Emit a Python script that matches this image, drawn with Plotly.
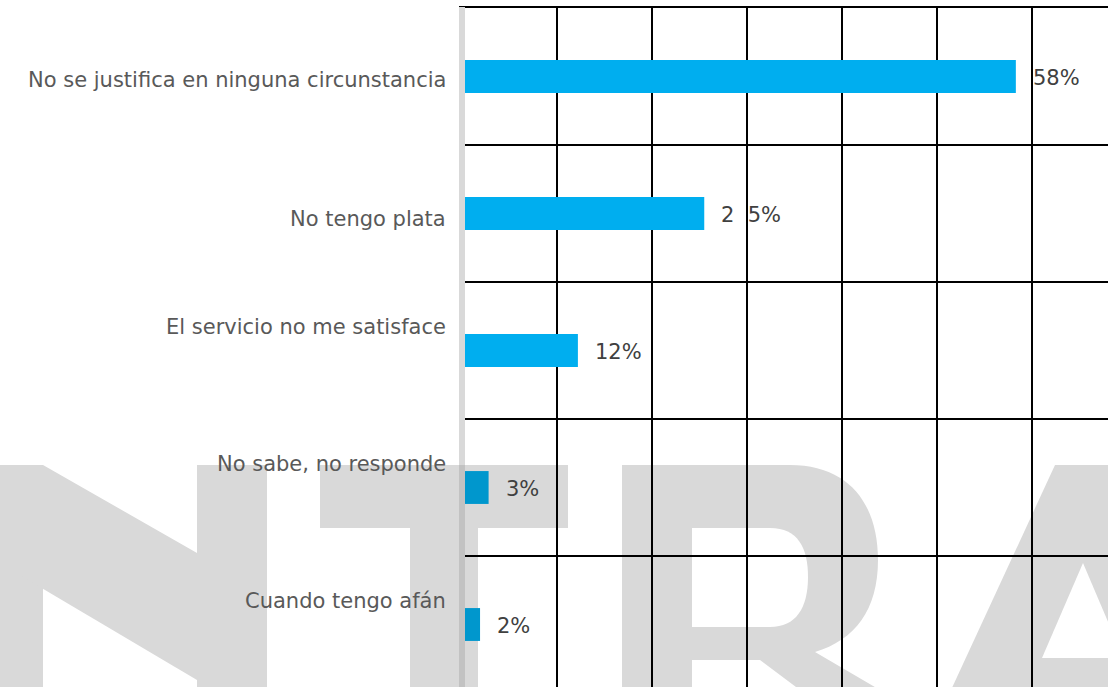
import plotly.graph_objects as go

# ---- data ----
categories = [
    "No se justifica en ninguna circunstancia",
    "No tengo plata",
    "El servicio no me satisface",
    "No sabe, no responde",
    "Cuando tengo afán",
]
values = [58.3, 25.5, 12.2, 2.8, 1.9]
value_labels = ["58%", "2\u00a0\u00a05%", "12%", "3%", "2%"]

# ---- styling ----
bar_colors = ["#00AEEF", "#00AEEF", "#00AEEF", "#0097CD", "#0097CD"]
label_yshift = [-3, -5, 24, 24, 24]
FONT = "DejaVu Sans"
W, H = 1108, 687
ML, MT = 462, 7
PW, PH = W - ML, H - MT
ROW = 137.0
WM = "#d9d9d9"


def px(x):
    return (x - ML) / PW


def py(y):
    return (H - y) / PH


def poly(points, color, layer="below"):
    d = "M " + " L ".join(f"{px(x):.5f},{py(y):.5f}" for x, y in points) + " Z"
    return dict(type="path", xref="paper", yref="paper", path=d,
                fillcolor=color, line=dict(width=0), layer=layer)


def rect(x0, x1, y0, y1, color=WM, layer="below"):
    return dict(type="rect", xref="paper", yref="paper",
                x0=px(x0), x1=px(x1), y0=py(y1), y1=py(y0),
                fillcolor=color, line=dict(width=0), layer=layer)


shapes = [
    # watermark: N
    rect(-20, 43, 465, 690),
    rect(197, 267, 465, 690),
    poly([(20, 465), (43, 465), (197, 553), (197, 680), (45, 590), (20, 575)], WM),
    # T
    rect(320, 568, 465, 528),
    rect(410, 478, 527, 690),
    # R
    rect(622, 692, 465, 690),
    dict(type="path", xref="paper", yref="paper", layer="below", fillcolor=WM, line=dict(width=0),
         path=(f"M {px(622):.5f},{py(465):.5f} L {px(790):.5f},{py(465):.5f} "
               f"C {px(850):.5f},{py(465):.5f} {px(878):.5f},{py(505):.5f} {px(878):.5f},{py(560):.5f} "
               f"C {px(878):.5f},{py(610):.5f} {px(855):.5f},{py(640):.5f} {px(815):.5f},{py(652):.5f} "
               f"L {px(880):.5f},{py(690):.5f} L {px(800):.5f},{py(690):.5f} L {px(760):.5f},{py(660):.5f} "
               f"L {px(622):.5f},{py(660):.5f} Z")),
    dict(type="path", xref="paper", yref="paper", layer="below", fillcolor="white", line=dict(width=0),
         path=(f"M {px(692):.5f},{py(528):.5f} L {px(770):.5f},{py(528):.5f} "
               f"C {px(798):.5f},{py(528):.5f} {px(808):.5f},{py(548):.5f} {px(808):.5f},{py(577):.5f} "
               f"C {px(808):.5f},{py(608):.5f} {px(796):.5f},{py(627):.5f} {px(770):.5f},{py(627):.5f} "
               f"L {px(692):.5f},{py(627):.5f} Z")),
    # A
    poly([(1055, 465), (1120, 465), (1120, 690), (951, 690)], WM),
    poly([(1083, 563), (1042, 658), (1120, 658), (1120, 563)], "white"),
    poly([(1083, 563), (1120, 563), (1120, 650)], WM),
    # top border line of the grid
    dict(type="line", xref="paper", yref="paper", x0=px(459), x1=1.0,
         y0=1.0, y1=1.0, line=dict(color="black", width=2), layer="above"),
    # value axis line (drawn over bar bases)
    dict(type="line", xref="paper", yref="paper", x0=px(462), x1=px(462),
         y0=py(7), y1=py(465), line=dict(color="#d9d9d9", width=6), layer="above"),
    dict(type="line", xref="paper", yref="paper", x0=px(462), x1=px(462),
         y0=py(465), y1=py(690), line=dict(color="#c2c2c2", width=6), layer="above"),
]

fig = go.Figure()
fig.add_trace(go.Bar(
    y=categories, x=values, orientation="h",
    marker=dict(color=bar_colors, line=dict(width=0)),
    width=0.24, hoverinfo="skip",
))

annotations = []
for cat, ys in zip(categories, label_yshift):
    annotations.append(dict(
        x=0, xref="paper", y=cat, yref="y", text=cat, showarrow=False,
        xanchor="right", yanchor="middle", xshift=-14, yshift=ys,
        font=dict(family=FONT, size=21, color="#595959"),
    ))
for cat, v, t in zip(categories, values, value_labels):
    annotations.append(dict(
        x=v, xref="x", y=cat, yref="y", text=t, showarrow=False,
        xanchor="left", yanchor="middle", xshift=15, yshift=-1,
        font=dict(family=FONT, size=21, color="#404040"),
    ))

top = -0.5 - 1.0 / ROW
fig.update_layout(
    width=W, height=H,
    margin=dict(l=ML, r=0, t=MT, b=0, pad=0),
    paper_bgcolor="white", plot_bgcolor="rgba(0,0,0,0)",
    showlegend=False,
    font=dict(family=FONT, size=21, color="#595959"),
    shapes=shapes,
    annotations=annotations,
    xaxis=dict(range=[0, 68], dtick=10, tick0=0, showgrid=True, gridcolor="black",
               gridwidth=1.6, zeroline=False, showticklabels=False, ticks="",
               showline=False, fixedrange=True),
    yaxis=dict(type="category", categoryorder="array", categoryarray=categories,
               range=[top + PH / ROW, top], tickson="boundaries", showgrid=True,
               gridcolor="black", gridwidth=1.6, showticklabels=False, ticks="",
               showline=False, zeroline=False, fixedrange=True),
)

fig.write_html("out.html", post_script="document.body.style.margin='0';",
               config={"displayModeBar": False})
